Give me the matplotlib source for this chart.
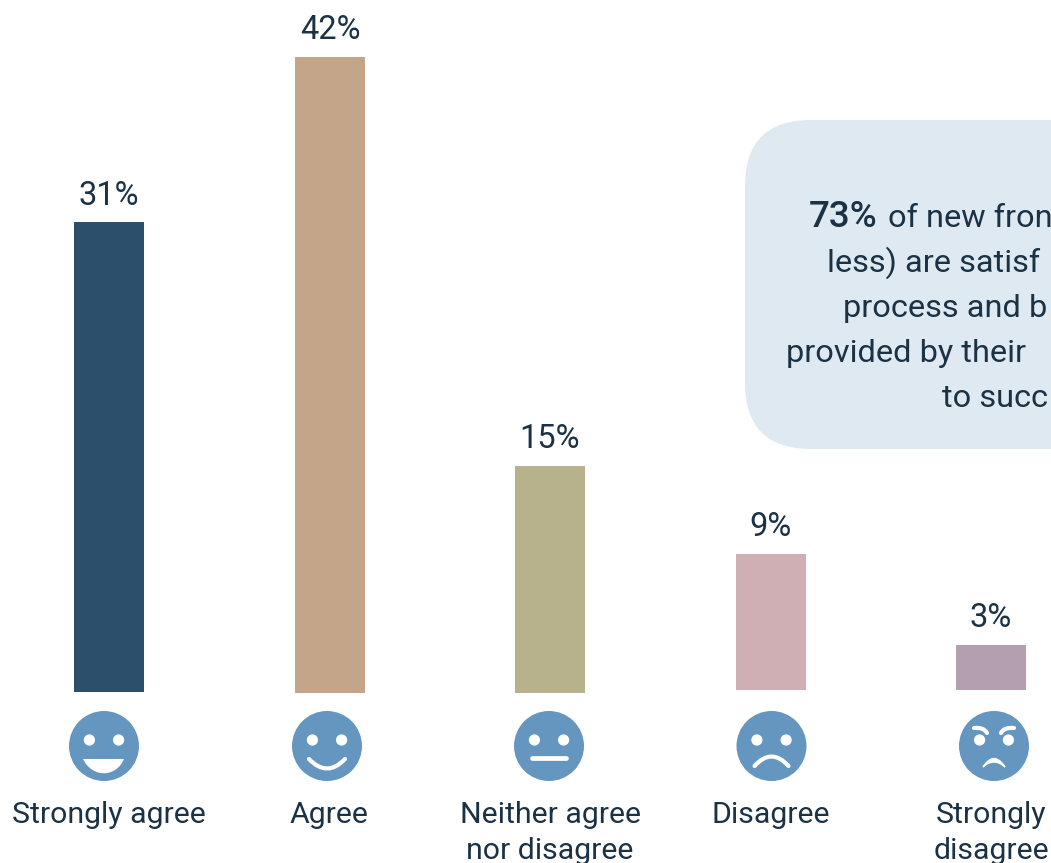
import matplotlib
matplotlib.use("Agg")
import matplotlib.pyplot as plt
from matplotlib.patches import Circle, FancyBboxPatch, PathPatch
from matplotlib.path import Path

categories = ["Strongly agree", "Agree", "Neither agree\nnor disagree", "Disagree", "Strongly\ndisagree"]
values = [31, 42, 15, 9, 3]
value_labels = ["31%", "42%", "15%", "9%", "3%"]
bar_colors = ["#2c4f6b", "#c4a58a", "#b7b28c", "#cfafb4", "#b49fb0"]
callout_lines = ["of new fron", "less) are satisf", "process and b", "provided by their", "to succ"]
callout_bold = "73%"

W, H = 1051, 863
INK = "#1b3244"
FACE = "#6596c0"
FONT = "Roboto"
PX_PER_UNIT = 15.15
BASE = [692, 693, 693, 690, 690]       # bar foot, px from top
BAR_X = [109, 330, 550, 770.5, 991]
LABEL_X = [108.5, 329, 550, 770.5, 991]
FACE_X = [104, 327, 549, 771.5, 994]

fig = plt.figure(figsize=(W / 100, H / 100), dpi=100, facecolor="white")

# Data axes: x in px, y in percent with 0 at pixel 692
ax = fig.add_axes([0, 0, 1, 1])
ax.set_xlim(0, W)
ax.set_ylim(-(H - 692) / PX_PER_UNIT, 692 / PX_PER_UNIT)
ax.axis("off")

# Overlay in image pixels for the decorations
ov = fig.add_axes([0, 0, 1, 1], zorder=1)
ov.set_xlim(0, W)
ov.set_ylim(H, 0)
ov.axis("off")
ov.patch.set_alpha(0)

bottoms = [(692 - b) / PX_PER_UNIT for b in BASE]
ax.bar(BAR_X, values, width=70, bottom=bottoms, color=bar_colors, linewidth=0)

for x, v, b, lab in zip(BAR_X, values, bottoms, value_labels):
    ax.annotate(lab, (x, v + b), xytext=(0, 12.5), textcoords="offset points",
                ha="center", va="baseline", fontsize=23.5, color=INK, family=FONT)

for x, cat in zip(LABEL_X, categories):
    for j, part in enumerate(cat.split("\n")):
        ov.text(x, 823 + j * 36, part, ha="center", va="baseline", fontsize=21.8,
                color=INK, family=FONT)

# Callout
ov.add_patch(FancyBboxPatch((807, 182), 400, 205, boxstyle="round,pad=62,rounding_size=66",
                            fc="#dfe9f2", ec="none", clip_on=True))
ov.text(809, 227, callout_bold, fontsize=26.5, color=INK, family=FONT, weight="medium", va="baseline")
starts = [888, 827, 843, 786, 942]
for i, (x, t) in enumerate(zip(starts, callout_lines)):
    ov.text(x, 227 + i * 45, t, fontsize=23.4, color=INK, family=FONT, va="baseline", clip_on=True)


def curve(p0, c, p1, lw=3):
    ov.add_patch(PathPatch(Path([p0, c, p1], [Path.MOVETO, Path.CURVE3, Path.CURVE3]),
                           fc="none", ec="white", lw=lw, capstyle="round"))


def shape(verts, codes, lw=0):
    ov.add_patch(PathPatch(Path(verts, codes), fc="white", ec="white", lw=lw))


CY = 746
for cx in FACE_X:
    ov.add_patch(Circle((cx, CY), 35, fc=FACE, ec="none"))

eye_dx = [14.6, 14.6, 14.6, 14.6, 14.4]
for cx, dx in zip(FACE_X, eye_dx):
    for s in (-1, 1):
        ov.add_patch(Circle((cx + s * dx, 740), 5.6, fc="white", ec="none"))

# Grin
c = FACE_X[0]
shape([(c - 21, 759), (c - 12, 778), (c + 12, 778), (c + 20, 759), (c - 21, 759)],
      [Path.MOVETO, Path.CURVE4, Path.CURVE4, Path.CURVE4, Path.CLOSEPOLY])
# Smile
c = FACE_X[1]
curve((c - 18, 759), (c, 778), (c + 18, 759), lw=3)
# Flat mouth
c = FACE_X[2]
ov.plot([c - 17, c + 17], [758, 758], color="white", lw=3.4, solid_capstyle="round")
# Frown
c = FACE_X[3]
curve((c - 17, 766), (c, 747), (c + 17, 766), lw=3)
# Angry
c = FACE_X[4]
curve((c - 20, 728), (c - 10, 727), (c - 7, 733), lw=3)
curve((c + 20, 728), (c + 10, 727), (c + 7, 733), lw=3)
shape([(c - 11, 767), (c, 750), (c + 11, 767), (c, 757), (c - 11, 767)],
      [Path.MOVETO, Path.CURVE3, Path.CURVE3, Path.CURVE3, Path.CURVE3], lw=1)

fig.savefig("out.png", dpi=100)
